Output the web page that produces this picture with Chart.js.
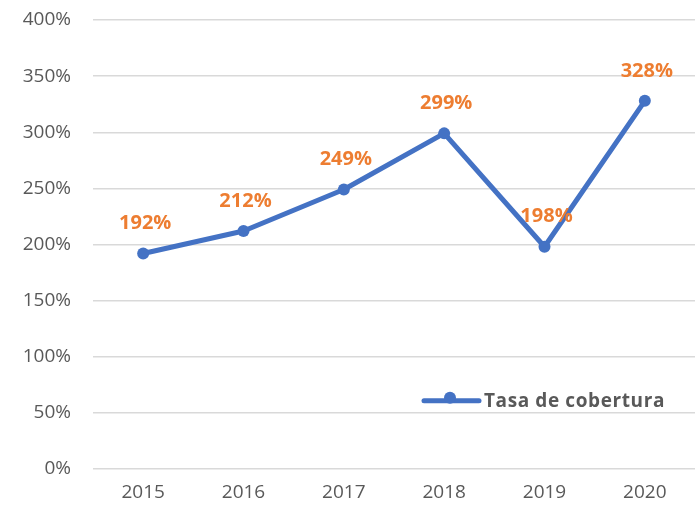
<!DOCTYPE html>
<html><head><meta charset="utf-8">
<script src="https://cdn.jsdelivr.net/npm/chart.js@4"></script>
<style>html,body{margin:0;padding:0;background:#fff}#wrap{width:695px;height:512px;position:relative}</style>
</head><body><div id="wrap"><canvas id="c" width="695" height="512"></canvas></div>
<script>
const categories = ['2015','2016','2017','2018','2019','2020'];
const tasaCobertura = [192, 212, 249, 299, 198, 328];
const seriesName = 'Tasa de cobertura';
const yTicks = [0,50,100,150,200,250,300,350,400];

const FONT = "'Open Sans', 'Liberation Sans', sans-serif";
const BLUE = '#4472C4';
const ORANGE = '#ED7D31';

const labelPlugin = {
  id: 'labels',
  afterDatasetsDraw(chart) {
    const ctx = chart.ctx;
    const meta = chart.getDatasetMeta(0);
    ctx.save();
    ctx.font = "bold 20px " + FONT;
    ctx.fillStyle = ORANGE;
    ctx.textAlign = 'center';
    ctx.textBaseline = 'middle';
    meta.data.forEach((pt, i) => {
      ctx.fillText(tasaCobertura[i] + '%', pt.x + 2, pt.y - 30);
    });
    // legend inside plot
    const a = chart.chartArea;
    const ly = a.top + (a.bottom - a.top) * 0.848;
    const lx = 424;
    ctx.strokeStyle = BLUE; ctx.lineWidth = 5; ctx.lineCap = 'round';
    ctx.beginPath(); ctx.moveTo(lx, ly); ctx.lineTo(lx + 55, ly); ctx.stroke();
    ctx.fillStyle = BLUE;
    ctx.beginPath(); ctx.arc(lx + 26, ly - 3, 6, 0, Math.PI * 2); ctx.fill();
    ctx.fillStyle = '#595959';
    ctx.textAlign = 'left';
    ctx.font = "bold 19px " + FONT;
    ctx.letterSpacing = '0.6px';
    ctx.fillText(seriesName, lx + 60, ly + 1);
    ctx.restore();
  }
};

new Chart(document.getElementById('c'), {
  type: 'line',
  data: {
    labels: categories,
    datasets: [{
      label: seriesName,
      data: tasaCobertura,
      borderColor: BLUE,
      backgroundColor: BLUE,
      borderWidth: 5,
      pointRadius: 6,
      pointHoverRadius: 6,
      pointBackgroundColor: BLUE,
      pointBorderWidth: 0,
      tension: 0,
      borderJoinStyle: 'round'
    }]
  },
  options: {
    responsive: false,
    animation: false,
    events: [],
    layout: { autoPadding: false, padding: { top: 20, right: 0, left: 0, bottom: 0 } },
    plugins: { legend: { display: false }, tooltip: { enabled: false } },
    scales: {
      x: {
        offset: true,
        grid: { display: false, drawTicks: false },
        border: { display: false },
        ticks: { color: '#595959', font: { family: FONT, size: 19 }, padding: 12 },
        afterFit(s) { s.height = 43; s.paddingLeft = 0; s.paddingRight = 0; }
      },
      y: {
        min: 0, max: 400,
        afterBuildTicks(s) { s.ticks = yTicks.map(v => ({ value: v })); },
        grid: { color: '#D9D9D9', lineWidth: 1.5, drawTicks: false },
        border: { display: false },
        ticks: { color: '#595959', font: { family: FONT, size: 19 }, padding: 22,
          callback: v => v + '%' },
        afterFit(s) { s.width = 93; s.paddingTop = 0; s.paddingBottom = 0; }
      }
    }
  },
  plugins: [labelPlugin]
});
</script></body></html>
